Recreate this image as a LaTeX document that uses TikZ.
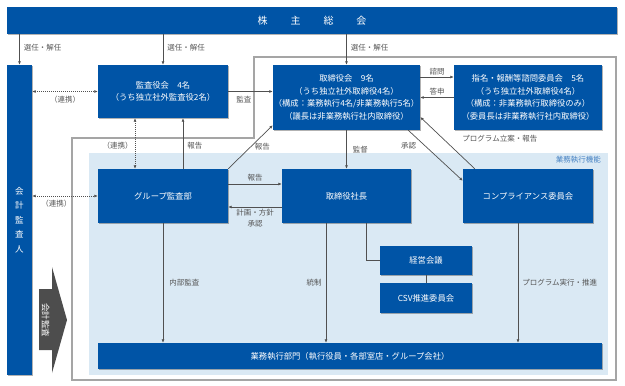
\documentclass[tikz,border=0pt]{standalone}
\usepackage{fontspec}
\setmainfont{Noto Sans CJK JP}
\usetikzlibrary{arrows.meta,shadows}
\definecolor{boxblue}{RGB}{0,84,166}
\definecolor{paleblue}{RGB}{218,233,244}
\definecolor{linegray}{RGB}{80,80,80}
\definecolor{textgray}{RGB}{85,85,85}
\definecolor{framegray}{RGB}{165,165,165}
\definecolor{arrowgray}{RGB}{77,77,77}
\definecolor{tagblue}{RGB}{70,130,195}

\begin{document}
\begin{tikzpicture}[
                    x=1pt, y=-1pt,
                    box/.style={fill=boxblue, text=white, align=center, inner sep=0pt,
                                font=\fontsize{8.3}{12.7}\selectfont,
                                drop shadow={shadow xshift=0.8pt, shadow yshift=-0.8pt, fill=black, opacity=0.3}},
                    lbl/.style={text=textgray, inner sep=2pt, font=\fontsize{7.5}{11}\selectfont},
                    arr/.style={draw=linegray, line width=0.7pt, -{Latex[length=3.5pt,width=3pt]}},
                    link/.style={draw=linegray, line width=0.8pt, dash pattern=on 1pt off 1pt,
                                 {Latex[length=3.5pt,width=3pt]}-{Latex[length=3.5pt,width=3pt]}},
                    conn/.style={draw=linegray, line width=0.7pt}
                ]
                \useasboundingbox (0,0) rectangle (625,386);

                % execution area and outer frame
                \fill[paleblue] (89,153) rectangle (608,375);
                \draw[framegray, line width=1.6pt] (72,380) -- (72,138) -- (254,138) -- (254,57) -- (616,57) -- (616,380) -- cycle;
                \node[lbl, text=tagblue, anchor=east] (kinou) at (603,160) {業務執行機能};

                \node[box, minimum width=610pt, minimum height=27pt, font=\fontsize{10}{12}\selectfont] (soukai) at (312,20.5)
                    {株\hspace{23pt}主\hspace{23pt}総\hspace{23pt}会};
                \node[box, minimum width=25pt, minimum height=310pt, font=\fontsize{8.5}{14.5}\selectfont] (kaikei) at (19.5,220)
                    {会\\計\\監\\査\\人};
                \node[box, minimum width=130pt, minimum height=53pt] (kansa) at (163,91.5)
                    {監査役会\quad 4名\\（うち独立社外監査役2名）};
                \node[box, minimum width=147pt, minimum height=65pt] (torishimari) at (346.5,97.5)
                    {取締役会\quad 9名\\（うち独立社外取締役4名）\\（構成：業務執行4名/非業務執行5名）\\（議長は非業務執行社内取締役）};
                \node[box, minimum width=148pt, minimum height=65pt] (shimei) at (528,97.5)
                    {指名・報酬等諮問委員会\quad 5名\\（うち独立社外取締役4名）\\（構成：非業務執行取締役のみ）\\（委員長は非業務執行社内取締役）};
                \node[box, minimum width=130pt, minimum height=54pt] (group) at (163,196) {グループ監査部};
                \node[box, minimum width=129pt, minimum height=54pt] (shacho) at (346.5,196) {取締役社長};
                \node[box, minimum width=130pt, minimum height=54pt] (comp) at (528,196) {コンプライアンス委員会};
                \node[box, minimum width=92pt, minimum height=29pt] (keiei) at (426,260.5) {経営会議};
                \node[box, minimum width=92pt, minimum height=30pt] (csv) at (426,298) {CSV推進委員会};
                \node[box, minimum width=504pt, minimum height=26pt] (gyomu) at (350,356)
                    {業務執行部門（執行役員・各部室店・グループ会社）};

                % accounting audit arrow
                \fill[arrowgray] (39,289) -- (52,289) -- (52,267) -- (67,320) -- (52,373) -- (52,350) -- (39,350) -- cycle;
                \node[rotate=-90, text=white, inner sep=0pt, font=\fontsize{8.5}{10}\selectfont] (kaikeikansa) at (45.5,320) {会計監査};

                \draw[arr] (soukai.south -| kaikei) -- node[lbl, right, pos=.45, xshift=2pt] (s1) {選任・解任} (kaikei.north);
                \draw[arr] (soukai.south -| kansa) -- node[lbl, right, pos=.45, xshift=2pt] (s2) {選任・解任} (kansa.north);
                \draw[arr] (soukai.south -| torishimari) -- node[lbl, right, pos=.45, xshift=2pt] (s3) {選任・解任} (torishimari.north);

                \draw[link] (kaikei.east |- kansa) -- node[lbl, below, yshift=-2pt] (r1) {（連携）} (kansa.west);
                \draw[link] (kaikei.east |- group) -- node[lbl, below, pos=.37, yshift=-2pt] (r2) {（連携）} (group.west);
                \draw[link] ([xshift=-28pt]kansa.south) -- node[lbl, left, pos=.55] (r3) {（連携）} ([xshift=-28pt]group.north);
                \draw[arr] ([xshift=20pt]group.north) -- node[lbl, right, pos=.45, xshift=2pt] (h1) {報告} ([xshift=20pt]kansa.south);

                \draw[arr] (kansa.east) -- node[lbl, below, pos=.35, yshift=-2pt] (k1) {監査} (kansa.east -| torishimari.west);
                \draw[arr] (group.north east) -- node[lbl, right, pos=.5, xshift=2pt] (h2) {報告} ([yshift=5pt]torishimari.south west);
                \draw[arr] ([yshift=12pt]group.east) -- node[lbl, above] (h3) {報告} ([yshift=12pt]group.east -| shacho.west);
                \draw[arr] ([yshift=-11pt]group.east -| shacho.west) -- node[lbl, below, align=center] (h4) {計画・方針\\承認} ([yshift=-11pt]group.east);

                \draw[arr] (torishimari.south) -- node[lbl, right, pos=.5, xshift=4pt] (t1) {監督} (shacho.north);
                \draw[arr] ([xshift=-12pt]torishimari.south east) -- node[lbl, left, pos=.3, xshift=-6pt] (t2) {承認} ([yshift=-12pt]comp.north west);
                \draw[arr] ([xshift=12pt]comp.north west) -- node[lbl, anchor=west, pos=.58, xshift=17pt] (t3) {プログラム立案・報告} ([yshift=-19.5pt]torishimari.east);
                \draw[arr] ([yshift=20.5pt]torishimari.east) -- node[lbl, above] (t4) {諮問} ([yshift=20.5pt]torishimari.east -| shimei.west);
                \draw[arr] (shimei.west) -- node[lbl, above] (t5) {答申} (shimei.west -| torishimari.east);

                \draw[conn] ([xshift=19.5pt]shacho.south) |- (keiei.west);
                \draw[conn] (keiei) -- (csv);

                \draw[arr] (group.south) -- node[lbl, right, xshift=4pt] (g1) {内部監査} (group.south |- gyomu.north);
                \draw[arr] ([xshift=-20.5pt]shacho.south) -- node[lbl, left, xshift=-2pt] (g2) {統制} ([xshift=-20.5pt]shacho.south |- gyomu.north);
                \draw[arr] ([xshift=-10pt]comp.south) -- node[lbl, right, xshift=2pt] (g3) {プログラム実行・推進} ([xshift=-10pt]comp.south |- gyomu.north);

            \end{tikzpicture}
\end{document}
